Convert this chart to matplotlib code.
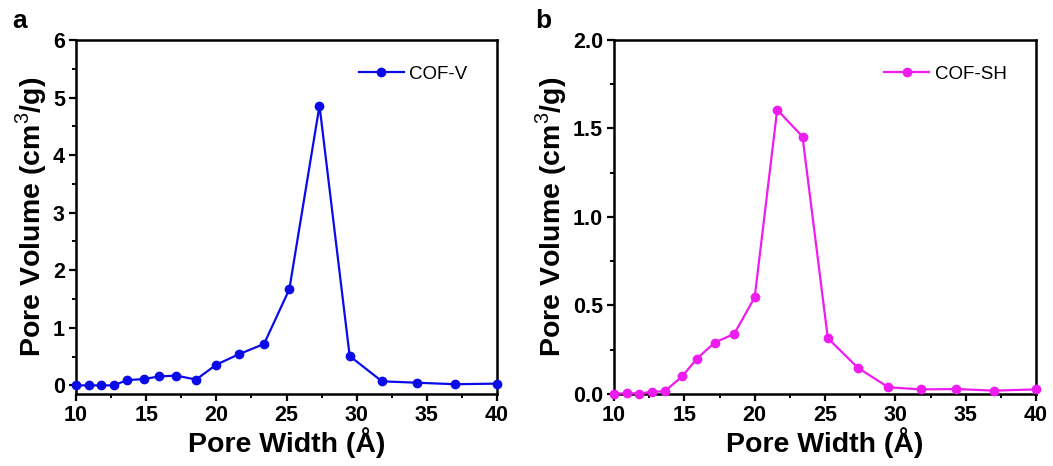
import matplotlib
matplotlib.use('Agg')
import matplotlib.pyplot as plt
from matplotlib.ticker import MultipleLocator

plt.rcParams['font.family'] = ['Liberation Sans', 'DejaVu Sans']
plt.rcParams['mathtext.fontset'] = 'custom'
plt.rcParams['mathtext.rm'] = 'Liberation Sans'
plt.rcParams['mathtext.bf'] = 'Liberation Sans:bold'

# Pore size distribution data (pore width in angstrom, volume in cm3/g)
pore_width = [10.0, 10.9, 11.8, 12.7, 13.6, 14.85, 15.9, 17.15, 18.55, 20.0,
              21.6, 23.4, 25.2, 27.35, 29.5, 31.8, 34.3, 37.0, 40.0]
vol_cof_v = [0.0, 0.0, 0.0, 0.0, 0.09, 0.11, 0.155, 0.17, 0.10, 0.36,
             0.54, 0.72, 1.67, 4.86, 0.51, 0.07, 0.046, 0.02, 0.03]
vol_cof_sh = [0.0, 0.005, 0.002, 0.013, 0.015, 0.10, 0.20, 0.29, 0.34, 0.546,
              1.606, 1.454, 0.315, 0.147, 0.038, 0.026, 0.028, 0.019, 0.026]

fig = plt.figure(figsize=(10.53, 4.66), dpi=100)
ax1 = fig.add_axes([0.0722, 0.1545, 0.3998, 0.7597])
ax2 = fig.add_axes([0.5831, 0.1545, 0.4008, 0.7597])


def style_axis(ax, ylim, ymajor, yminor, yfmt):
    ax.set_xlim(10, 40)
    ax.set_ylim(*ylim)
    ax.xaxis.set_major_locator(MultipleLocator(5))
    ax.xaxis.set_minor_locator(MultipleLocator(2.5))
    ax.yaxis.set_major_locator(MultipleLocator(ymajor))
    ax.yaxis.set_minor_locator(MultipleLocator(yminor))
    ax.yaxis.set_major_formatter(yfmt)
    for s in ax.spines.values():
        s.set_linewidth(1.8)
    ax.tick_params(which='major', direction='out', length=5, width=1.6,
                   labelsize=15.5, pad=3)
    ax.tick_params(which='minor', direction='out', length=3, width=1.4)
    for lbl in ax.get_xticklabels() + ax.get_yticklabels():
        lbl.set_fontweight('bold')
    ax.set_xlabel('Pore Width (Å)', fontsize=20.5, fontweight='bold', labelpad=1)
    ax.set_ylabel(r'Pore Volume (cm$^3$/g)', fontsize=20.5, fontweight='bold',
                  labelpad=3)


ax1.plot(pore_width, vol_cof_v, '-o', color='#0B0BE8', lw=1.6, ms=6,
         label='COF-V', clip_on=False, zorder=5)
style_axis(ax1, (-0.15, 6), 1, 0.5, '{x:.0f}')
ax1.legend(loc='upper right', bbox_to_anchor=(0.97, 0.975), frameon=False,
           fontsize=13.5, handlelength=2.4, handletextpad=0.3)

ax2.plot(pore_width, vol_cof_sh, '-o', color='#EE1CEE', lw=1.6, ms=6,
         label='COF-SH', clip_on=False, zorder=5)
style_axis(ax2, (0, 2), 0.5, 0.25, '{x:.1f}')
ax2.legend(loc='upper right', bbox_to_anchor=(0.97, 0.975), frameon=False,
           fontsize=13.5, handlelength=2.4, handletextpad=0.3)

fig.text(0.012, 0.94, 'a', fontsize=19, fontweight='bold')
fig.text(0.508, 0.94, 'b', fontsize=19, fontweight='bold')

fig.savefig('out.png', dpi=100)
